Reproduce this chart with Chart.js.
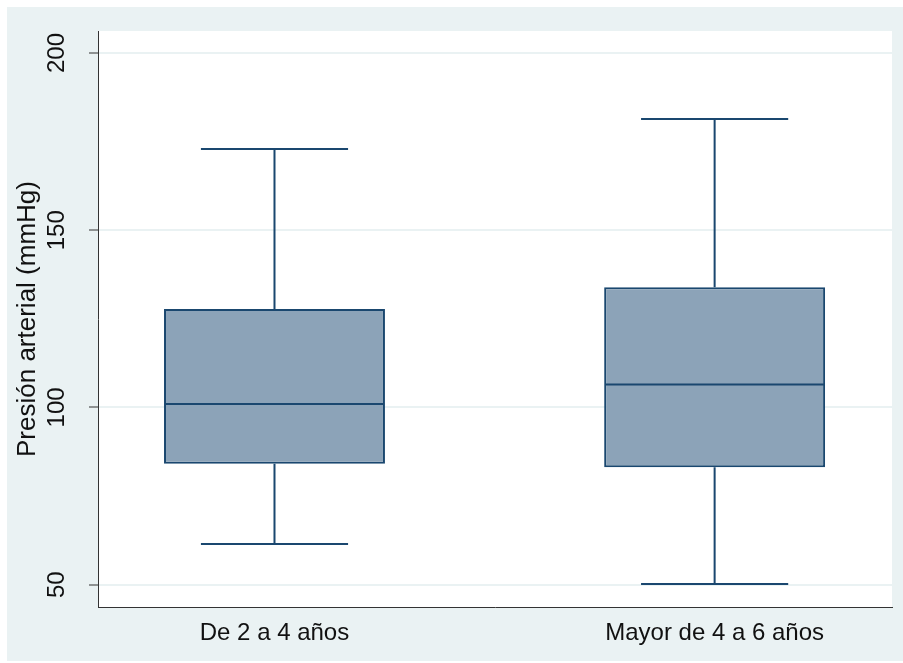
<!DOCTYPE html>
<html>
<head>
<meta charset="utf-8">
<script src="https://cdn.jsdelivr.net/npm/chart.js@4/dist/chart.umd.min.js"></script>
<style>
  html, body { margin: 0; padding: 0; background: #fff; }
  canvas { display: block; }
</style>
</head>
<body>
<canvas id="myChart" width="903" height="663"></canvas>
<script>
'use strict';

// data
var categories = ['De 2 a 4 años', 'Mayor de 4 a 6 años'];
var lowerWhisker = [61.5, 50.2];
var q1 = [84.1, 83.1];
var median = [101.0, 106.5];
var q3 = [127.8, 133.9];
var upperWhisker = [172.9, 181.4];
var yTicks = [50, 100, 150, 200];

var boxLine = '#1a476f';
var boxFill = '#8ca3b8';
var panelBg = '#eaf2f3';

var boxData = [];
for (var i = 0; i < categories.length; i++) {
  boxData.push({ x: i + 1, y: [q1[i], q3[i]] });
}

// background: grey outer region, white plot region
var backgroundPlugin = {
  id: 'background',
  beforeDraw: function (chart) {
    var ctx = chart.ctx;
    var area = chart.chartArea;
    ctx.save();
    ctx.fillStyle = '#fff';
    ctx.fillRect(0, 0, chart.width, chart.height);
    ctx.fillStyle = panelBg;
    ctx.fillRect(7, 7, chart.width - 7, chart.height - 9);
    ctx.fillStyle = '#fff';
    ctx.fillRect(area.left, area.top, area.right - area.left, area.bottom - area.top);
    ctx.restore();
  }
};

// whiskers, caps and median line
var whiskerPlugin = {
  id: 'whiskers',
  afterDatasetsDraw: function (chart) {
    var ctx = chart.ctx;
    var yScale = chart.scales.y;
    var meta = chart.getDatasetMeta(0);
    ctx.save();
    ctx.strokeStyle = boxLine;
    ctx.lineWidth = 2;
    ctx.lineCap = 'butt';
    meta.data.forEach(function (bar, i) {
      var x = bar.x;
      var half = bar.width / 2;
      var cap = bar.width * 0.333;
      var yUp = yScale.getPixelForValue(upperWhisker[i]);
      var yQ3 = yScale.getPixelForValue(q3[i]);
      var yQ1 = yScale.getPixelForValue(q1[i]);
      var yLow = yScale.getPixelForValue(lowerWhisker[i]);
      var yMed = yScale.getPixelForValue(median[i]);
      ctx.beginPath();
      ctx.moveTo(x, yQ3); ctx.lineTo(x, yUp);
      ctx.moveTo(x - cap, yUp); ctx.lineTo(x + cap, yUp);
      ctx.moveTo(x, yQ1); ctx.lineTo(x, yLow);
      ctx.moveTo(x - cap, yLow); ctx.lineTo(x + cap, yLow);
      ctx.moveTo(x - half + 1, yMed); ctx.lineTo(x + half - 1, yMed);
      ctx.stroke();
    });
    ctx.restore();
  }
};

var ctx = document.getElementById('myChart').getContext('2d');

var chart = new Chart(ctx, {
  type: 'bar',
  data: {
    datasets: [{
      label: 'Presión arterial',
      data: boxData,
      backgroundColor: boxFill,
      borderColor: boxLine,
      borderWidth: 2,
      borderSkipped: false,
      barPercentage: 1,
      categoryPercentage: 0.502
    }]
  },
  options: {
    responsive: false,
    animation: false,
    layout: { padding: { left: 0, top: 31, right: 11, bottom: 0 } },
    plugins: {
      legend: { display: false },
      tooltip: { enabled: false }
    },
    scales: {
      x: {
        type: 'linear',
        offset: false,
        min: 0.599,
        max: 2.403,
        afterBuildTicks: function (scale) {
          scale.ticks = categories.map(function (c, i) { return { value: i + 1 }; });
        },
        afterFit: function (scale) {
          scale.height = 56;
          scale.paddingLeft = 0;
          scale.paddingRight = 0;
        },
        ticks: {
          autoSkip: false,
          maxRotation: 0,
          padding: 12,
          color: '#111',
          font: { family: 'Liberation Sans, Arial, sans-serif', size: 24 },
          callback: function (value) { return categories[value - 1] || ''; }
        },
        grid: { offset: false, drawOnChartArea: false, drawTicks: false },
        border: { color: '#333', width: 1 }
      },
      y: {
        min: 43.7,
        max: 206.2,
        afterBuildTicks: function (scale) {
          scale.ticks = yTicks.map(function (v) { return { value: v }; });
        },
        afterFit: function (scale) {
          scale.width = 98;
          scale.paddingTop = 0;
          scale.paddingBottom = 0;
        },
        ticks: {
          minRotation: 90,
          maxRotation: 90,
          crossAlign: 'center',
          padding: 12,
          color: '#111',
          font: { family: 'Liberation Sans, Arial, sans-serif', size: 24 }
        },
        grid: {
          color: panelBg,
          lineWidth: 2,
          tickColor: '#333',
          tickWidth: 1,
          tickLength: 9
        },
        border: { color: '#333', width: 1 },
        title: {
          display: true,
          text: 'Presión arterial (mmHg)',
          color: '#111',
          padding: { top: 12, bottom: 0 },
          font: { family: 'Liberation Sans, Arial, sans-serif', size: 26 }
        }
      }
    }
  },
  plugins: [backgroundPlugin, whiskerPlugin]
});
</script>
</body>
</html>
